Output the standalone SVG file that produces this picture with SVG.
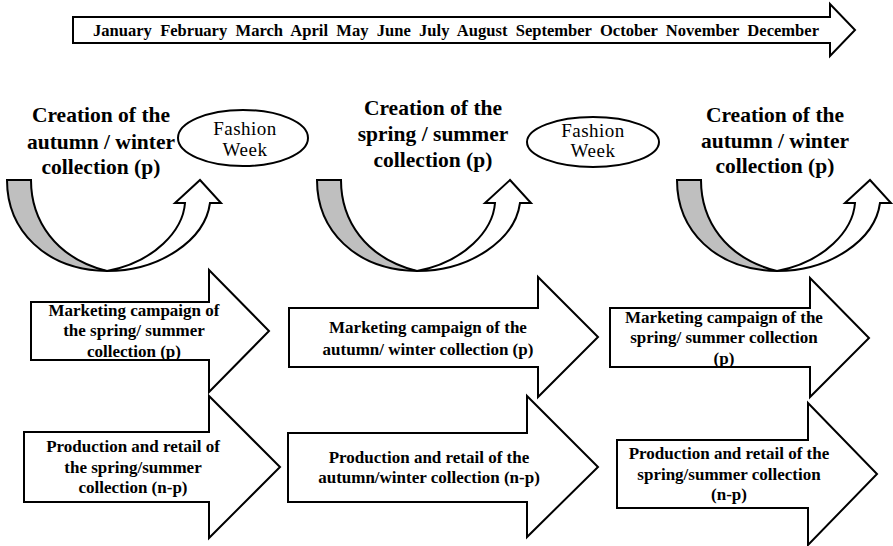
<svg xmlns="http://www.w3.org/2000/svg" xmlns:xlink="http://www.w3.org/1999/xlink" width="893" height="546" viewBox="0 0 893 546">
<style>
.sh{fill:#fff;stroke:#000;stroke-width:2;stroke-linejoin:miter}
.gr{fill:#bfbfbf;stroke:#000;stroke-width:2}
.t{font-family:"Liberation Serif","Times New Roman",serif;font-weight:bold;fill:#000;text-anchor:middle}
.ttl{font-size:21.5px}
.lb{font-size:17px}
.fw{font-family:"Liberation Serif","Times New Roman",serif;font-size:19px;letter-spacing:0.5px;fill:#000;text-anchor:middle}
</style>
<defs>
<g id="curve">
<path class="gr" d="M7,180 L31,180 C31,220 55,258 107,271 C45,270 7,230 7,180 Z"/>
<path class="sh" d="M107,271 C160,271 205,240 210,203 L221,203 L200,180 L175,203 L185,203 C183,230 155,262 107,271 Z"/>
</g>
</defs>
<rect width="893" height="546" fill="#fff"/>
<g id="timeline">
<polygon class="sh" points="73,17 830,17 830,4 855,30 830,56 830,43 73,43"/>
<text class="t" x="93" y="36" style="font-size:16px;text-anchor:start;white-space:pre" textLength="726" lengthAdjust="spacingAndGlyphs">January  February  March  April  May  June  July  August  September  October  November  December</text>
</g>
<g id="connectors">
<use xlink:href="#curve" href="#curve"/>
<use xlink:href="#curve" href="#curve" transform="translate(310,0)"/>
<use xlink:href="#curve" href="#curve" transform="translate(670,0)"/>
</g>
<g id="creation1">
<text class="t ttl" x="101" y="122">Creation of the</text>
<text class="t ttl" x="101" y="149">autumn / winter</text>
<text class="t ttl" x="101" y="174">collection (p)</text>
</g>
<g id="fashion1">
<ellipse class="sh" cx="243" cy="138" rx="65" ry="28"/>
<text class="fw" x="245" y="135">Fashion</text>
<text class="fw" x="245" y="156">Week</text>
</g>
<g id="creation2">
<text class="t ttl" x="433" y="115">Creation of the</text>
<text class="t ttl" x="433" y="141">spring / summer</text>
<text class="t ttl" x="433" y="167">collection (p)</text>
</g>
<g id="fashion2">
<ellipse class="sh" cx="593" cy="142" rx="66" ry="25"/>
<text class="fw" x="593" y="137">Fashion</text>
<text class="fw" x="593" y="157">Week</text>
</g>
<g id="creation3">
<text class="t ttl" x="775" y="122">Creation of the</text>
<text class="t ttl" x="775" y="148">autumn / winter</text>
<text class="t ttl" x="775" y="173">collection (p)</text>
</g>
<g id="marketing1">
<polygon class="sh" points="31,302 209,302 209,270 269,331 209,392 209,360 31,360"/>
<text class="t lb" x="134" y="316">Marketing campaign of</text>
<text class="t lb" x="134" y="336">the spring/ summer</text>
<text class="t lb" x="134" y="357">collection (p)</text>
</g>
<g id="marketing2">
<polygon class="sh" points="289,308 538,308 538,277 598,337 538,397 538,367 289,367"/>
<text class="t lb" x="428" y="333">Marketing campaign of the</text>
<text class="t lb" x="428" y="355">autumn/ winter collection (p)</text>
</g>
<g id="marketing3">
<polygon class="sh" points="610,308 810,308 810,278 869,338 810,397 810,367 610,367"/>
<text class="t lb" x="724" y="323">Marketing campaign of the</text>
<text class="t lb" x="724" y="343">spring/ summer collection</text>
<text class="t lb" x="724" y="364">(p)</text>
</g>
<g id="production1">
<polygon class="sh" points="24,432 209,432 209,396 280,467 209,538 209,502 24,502"/>
<text class="t lb" x="133" y="452">Production and retail of</text>
<text class="t lb" x="133" y="473">the spring/summer</text>
<text class="t lb" x="133" y="493">collection (n-p)</text>
</g>
<g id="production2">
<polygon class="sh" points="288,433 527,433 527,396 598,467 527,537 527,502 288,502"/>
<text class="t lb" x="429" y="463">Production and retail of the</text>
<text class="t lb" x="429" y="483">autumn/winter collection (n-p)</text>
</g>
<g id="production3">
<polygon class="sh" points="617,440 808,440 808,403 877,474 808,545 808,508 617,508"/>
<text class="t lb" x="729" y="459">Production and retail of the</text>
<text class="t lb" x="729" y="480">spring/summer collection</text>
<text class="t lb" x="729" y="500">(n-p)</text>
</g>
</svg>
